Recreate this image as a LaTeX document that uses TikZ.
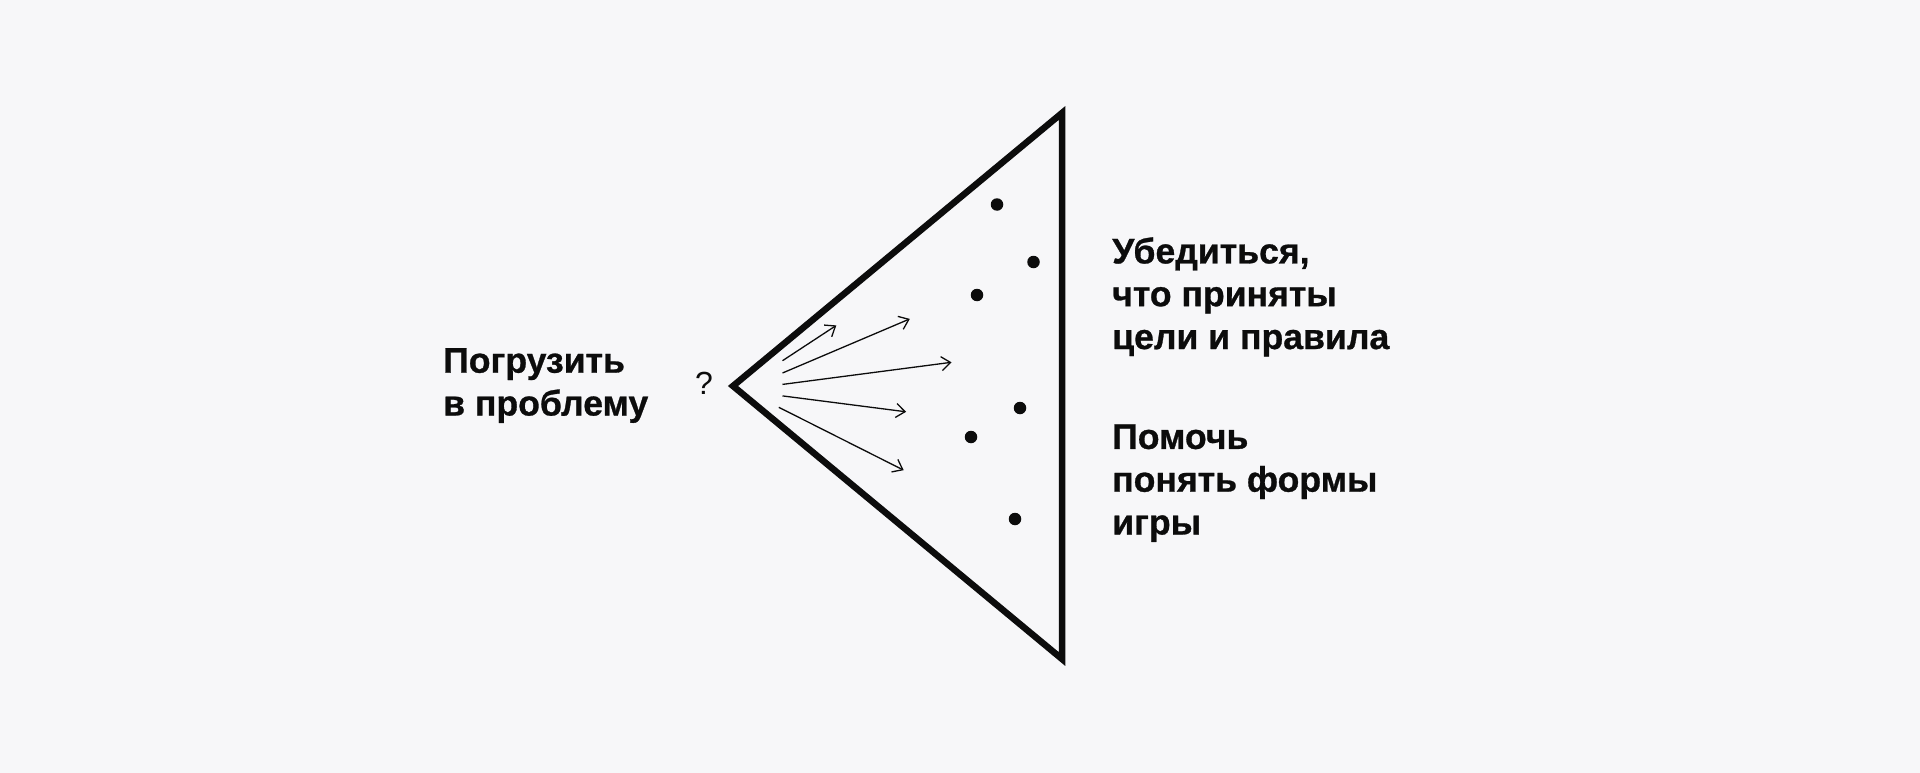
\documentclass[tikz,border=0pt]{standalone}
\usepackage{fontspec}
\setmainfont{Liberation Sans}[BoldFeatures={FakeBold=0.8}]
\usetikzlibrary{arrows.meta}
\definecolor{bgc}{RGB}{247,247,249}
\definecolor{ink}{RGB}{12,12,12}
\tikzset{
  lbl/.style={anchor=base west, align=left, inner sep=0pt, text=ink,
    font=\bfseries\fontsize{35.6}{42.8}\selectfont},
  dotmark/.style={circle, fill=ink, inner sep=0pt, minimum size=12.5pt},
  ray/.style={draw=ink, line width=1.3pt, -{Straight Barb[length=9pt,width=14pt,line width=1.3pt]}},
  tri/.style={draw=ink, line width=6.5pt, line join=miter}
}
\begin{document}
\begin{tikzpicture}[x=1pt,y=-1pt]
\useasboundingbox[fill=bgc] (0,0) rectangle (1920,773);
% triangle
\coordinate (apex) at (733,386);
\coordinate (top) at (1062,113);
\coordinate (bot) at (1062,659);
\draw[tri] (apex) -- (top) -- (bot) -- cycle;
% question mark
\node[anchor=base, inner sep=0pt, text=ink, font=\fontsize{32}{34}\selectfont] (q) at (704,394) {?};
% dots
\node[dotmark] (d1) at (997,204.5) {};
\node[dotmark] (d2) at (1033.5,262) {};
\node[dotmark] (d3) at (977,295) {};
\node[dotmark] (d4) at (1020,408) {};
\node[dotmark] (d5) at (971,437) {};
\node[dotmark] (d6) at (1015,519) {};
% arrows
\coordinate (s1) at (782.5,360.7); \coordinate (e1) at (836.3,325.4);
\coordinate (s2) at (782.5,373);   \coordinate (e2) at (909.8,318.9);
\coordinate (s3) at (782.5,384.4); \coordinate (e3) at (951.5,362.3);
\coordinate (s4) at (782.5,395.9); \coordinate (e4) at (906.1,411.8);
\coordinate (s5) at (778.8,407.3); \coordinate (e5) at (903.7,470.2);
\draw[ray] (s1) -- (e1);
\draw[ray] (s2) -- (e2);
\draw[ray] (s3) -- (e3);
\draw[ray] (s4) -- (e4);
\draw[ray] (s5) -- (e5);
% texts (base anchor = baseline of last line)
\node[lbl] (left) at (443,415.5) {Погрузить\\в проблему};
\node[lbl] (r1) at (1112,349) {Убедиться,\\что приняты\\цели и правила};
\node[lbl] (r2) at (1112,534.5) {Помочь\\понять формы\\игры};
\end{tikzpicture}
\end{document}
